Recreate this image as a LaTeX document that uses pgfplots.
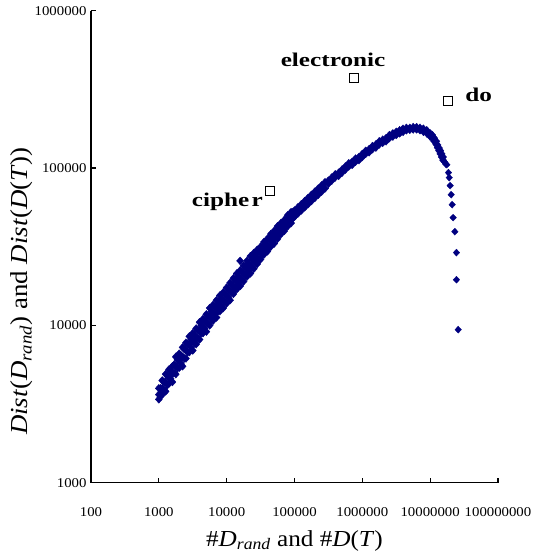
\documentclass[border=0pt]{standalone}
\usepackage{fontspec}
\setmainfont{Liberation Serif}[FakeStretch=1.1]
\usepackage{graphicx}
\usepackage{pgfplots}
\pgfplotsset{compat=1.18}
\definecolor{navy}{RGB}{0,0,128}
\begin{document}
\begin{tikzpicture}
\useasboundingbox (-91bp,-72.3bp) rectangle (446bp,482.7bp);
\begin{axis}[
  scale only axis, width=407bp, height=472bp,
  xmode=log, ymode=log,
  xmin=100, xmax=100000000, ymin=1000, ymax=1000000,
  axis x line*=bottom, axis y line*=left,
  axis line style={line width=1.2bp, black},
  every tick/.style={line width=1.2bp, black},
  tick align=inside, major tick length=5bp,
  xminorticks=false, yminorticks=false,
  xtick={100,1000,10000,100000,1000000,10000000,100000000},
  xticklabels={100,1000,10000,100000,1000000,10000000,100000000},
  ytick={1000,10000,100000,1000000},
  yticklabels={1000,10000,100000,1000000},
  tick label style={font=\fontsize{13.5}{14}\selectfont},
  xticklabel style={anchor=base, yshift=-34bp},
  yticklabel style={anchor=east, xshift=-1bp},
  xlabel={\#\textit{D}\textsubscript{\textit{rand}} and \#\textit{D}(\textit{T})},
  ylabel={\textit{Dist}(\textit{D}\textsubscript{\textit{rand}}) and \textit{Dist}(\textit{D}(\textit{T}))},
  xlabel style={font=\fontsize{23}{24}\selectfont, at={(axis description cs:0.5,-0.1345)}, anchor=base},
  ylabel style={font=\fontsize{24.5}{25}\selectfont, at={(axis description cs:-0.1548,0.406)}, anchor=base},
  clip=false,
]
\addplot[only marks, mark=diamond*, mark size=3.9bp, color=navy,
  mark options={xscale=1.2, draw=navy, fill=navy, line width=0.4bp}] coordinates {
(1000,3388) (1000,3631) (1000,3981)
(1059,3548) (1059,3981)
(1122,3631) (1122,3981) (1122,4467)
(1189,3890) (1189,4365)
(1259,3802) (1259,4365) (1259,4898)
(1334,4169) (1334,4786)
(1413,4266) (1413,4677) (1413,5248)
(1496,4571) (1496,5129)
(1585,4365) (1585,4898) (1585,5495)
(1679,5012) (1679,5623)
(1778,4898) (1778,5495) (1778,6310)
(1884,5370) (1884,6026)
(1995,5370) (1995,6026) (1995,6607)
(2113,5754) (2113,6457)
(2239,5495) (2239,6310) (2239,7244)
(2371,6166) (2371,7079)
(2512,6166) (2512,6918) (2512,7762)
(2661,6761) (2661,7586)
(2818,6761) (2818,7586) (2818,8511)
(2985,7244) (2985,8128)
(3162,6918) (3162,7943) (3162,8913)
(3350,7762) (3350,8710)
(3548,7586) (3548,8318) (3548,9550)
(3758,8318) (3758,9333)
(3981,8128) (3981,9333) (3981,10470)
(4217,8913) (4217,10000)
(4467,8913) (4467,9772) (4467,10960)
(4732,9550) (4732,10720)
(5012,9120) (5012,10470) (5012,11750)
(5309,10230) (5309,11480)
(5623,10000) (5623,11480) (5623,12880)
(5957,10960) (5957,12300)
(6310,10720) (6310,12020) (6310,13490)
(6683,11750) (6683,13180)
(7079,11220) (7079,12880) (7079,14450)
(7499,12300) (7499,14130)
(7943,12300) (7943,13490) (7943,15490)
(8414,13180) (8414,14790)
(8913,12880) (8913,14450) (8913,16220)
(9441,14130) (9441,15850)
(10000,13800) (10000,15490) (10000,17380)
(10590,15140) (10590,16980)
(11220,14450) (11220,16600) (11220,18620)
(11890,16220) (11890,18200)
(12590,15850) (12590,17780) (12590,19950)
(13340,16980) (13340,19500)
(14130,16980) (14130,19050) (14130,21380)
(14960,18200) (14960,20420)
(15850,17780) (15850,19950) (15850,22390)
(15800,25700)
(16790,19500) (16790,21880)
(17780,19050) (17780,21380) (17780,23990)
(18840,20890) (18840,23440)
(19950,20420) (19950,22910) (19950,25700)
(21130,21880) (21130,24550)
(22390,21380) (22390,23990) (22390,27540)
(23710,23440) (23710,26300)
(25120,22910) (25120,25700) (25120,28840)
(26610,25120) (26610,28180)
(28180,24550) (28180,26920) (28180,30200)
(29850,26300) (29850,29510)
(31620,26300) (31620,28840) (31620,31620)
(33500,28180) (33500,31620)
(35480,28180) (35480,30900) (35480,33880)
(37580,30200) (37580,33110)
(39810,29510) (39810,32360) (39810,35480)
(42170,31620) (42170,35480)
(44670,31620) (44670,34670) (44670,38020)
(47320,33880) (47320,37150)
(50120,33110) (50120,36310) (50120,39810)
(53090,36310) (53090,39810)
(56230,35480) (56230,38900) (56230,42660)
(59570,38020) (59570,41690)
(63100,38020) (63100,40740) (63100,44670)
(66830,40740) (66830,44670)
(70790,39810) (70790,43650) (70790,46770)
(74990,42660) (74990,46770)
(79430,42660) (79430,45710) (79430,50120)
(84140,45710) (84140,48980)
(89130,44670) (89130,48980) (89130,52480)
(94410,47860) (94410,52480)
(100000,48980) (100000,53700)
(112200,51290) (112200,56230)
(125900,53700) (125900,58880)
(141300,56230) (141300,61660)
(158500,58880) (158500,64570)
(177800,61660) (177800,67610)
(199500,64570) (199500,70790)
(223900,67610) (223900,74130)
(251200,70790) (251200,77620)
(281800,74130) (281800,81280)
(316200,79430) (316200,83180)
(354800,83180) (354800,87100)
(398100,87100) (398100,91200)
(446700,89130) (446700,93330)
(501200,93330) (501200,97720)
(562300,97720) (562300,102300)
(631000,102300) (631000,107200)
(707900,104700) (707900,109600)
(794300,109600) (794300,114800)
(891300,112200) (891300,117500)
(1000000,117500) (1000000,123000)
(1122000,123000) (1122000,128800)
(1259000,125900) (1259000,131800)
(1413000,131800) (1413000,138000)
(1585000,134900) (1585000,141300)
(1778000,141300) (1778000,147900)
(1995000,144500) (1995000,151400)
(2239000,147900) (2239000,154900)
(2512000,154900) (2512000,162200)
(2818000,158500) (2818000,166000)
(3162000,162200) (3162000,169800)
(3548000,166000) (3548000,173800)
(3981000,169800) (3981000,177800)
(4467000,173800) (4467000,180000)
(5012000,175000) (5012000,180000)
(5623000,176000) (5623000,182000)
(6310000,176000) (6310000,182000)
(7079000,174000) (7079000,180000)
(7943000,170000) (7943000,177800)
(8913000,166000) (8913000,173800)
(10000000,158500) (10000000,166000)
(10720000,154900) (10720000,162200)
(11480000,147900) (11480000,154900)
(12300000,141300) (12300000,147900)
(12880000,134900) (12880000,140000)
(13490000,129000) (13490000,134000)
(14130000,123000) (14130000,128800)
(14790000,117500) (14790000,123000)
(15490000,112200) (15490000,117500)
};
\addplot[only marks, mark=diamond*, mark size=3.5bp, color=navy,
  mark options={xscale=1.25, draw=navy, fill=navy, line width=0.3bp}] coordinates {
(16220000,109600)
(16980000,106000)
(17600000,105000)
(18600000,93500)
(19100000,86900)
(19700000,77300)
(20400000,67700)
(21100000,58500)
(21800000,48400)
(23100000,39400)
(24400000,29000)
(24400000,19500)
(25900000,9390)
};
\addplot[only marks, mark=square*, mark size=4.5bp,
  mark options={fill=white, draw=black, line width=0.8bp}] coordinates {
(42900,71300) (754000,373000) (18200000,268000)
};
\node[anchor=base, inner sep=0pt] at (axis cs:370000,443000)
  {\scalebox{1.18}[1]{\bfseries\fontsize{19.5}{20}\selectfont electronic}};
\node[anchor=base west, inner sep=0pt] at (axis cs:32700000,265000)
  {\scalebox{1.18}[1]{\bfseries\fontsize{19.5}{20}\selectfont do}};
\node[anchor=base east, inner sep=0pt] at (axis cs:34400,57000)
  {\scalebox{1.18}[1]{\bfseries\fontsize{19.5}{20}\selectfont ciphe\kern2bp r}};
\end{axis}
\end{tikzpicture}
\end{document}
